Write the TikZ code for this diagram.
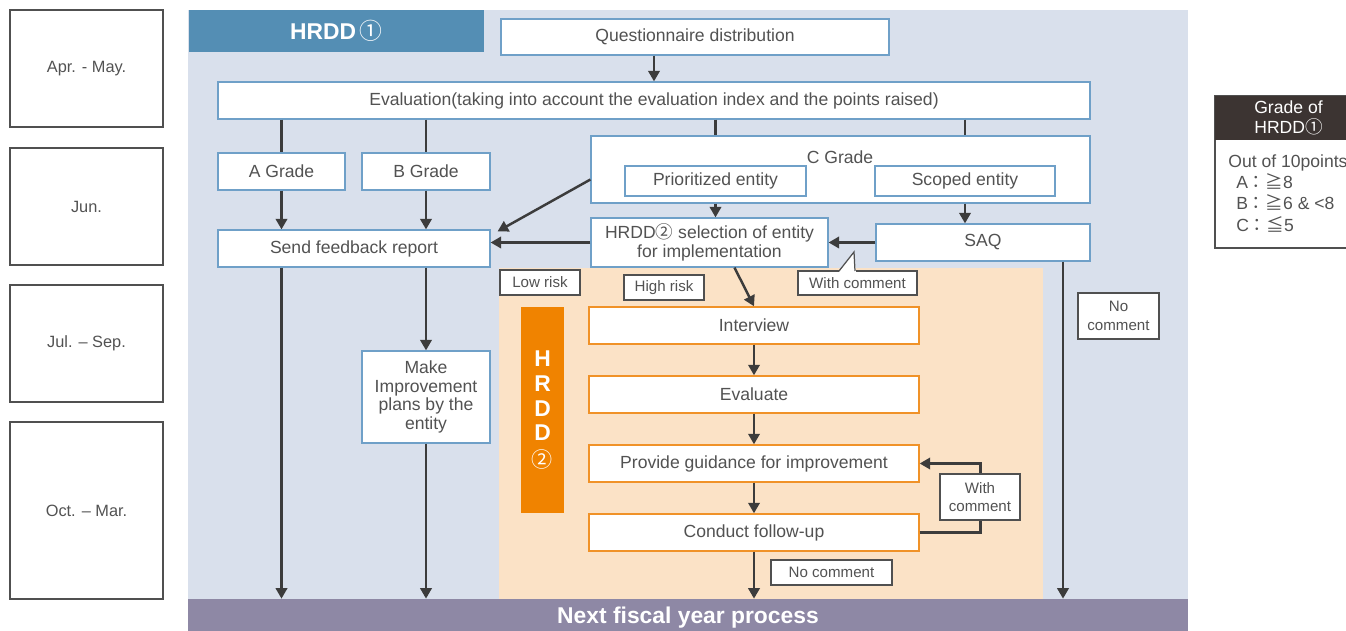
\documentclass[tikz,border=0pt]{standalone}
\usepackage{fontspec}
\setmainfont{Liberation Sans}
\newfontfamily\cjk{Noto Sans CJK JP}
\usetikzlibrary{arrows.meta,positioning,calc}

\definecolor{hrddbg}{RGB}{217,224,236}
\definecolor{hdrblue}{RGB}{84,142,180}
\definecolor{boxblue}{RGB}{111,160,200}
\definecolor{riskbg}{RGB}{251,226,198}
\definecolor{boxorange}{RGB}{240,146,40}
\definecolor{hrddorange}{RGB}{240,131,0}
\definecolor{nextpurple}{RGB}{142,136,165}
\definecolor{legdark}{RGB}{60,52,50}
\definecolor{arrgray}{RGB}{60,60,60}
\definecolor{txtgray}{RGB}{82,82,82}
\definecolor{tagline}{RGB}{80,80,80}

\begin{document}
\begin{tikzpicture}[
    x=0.02cm, y=-0.02cm,
    every node/.style={font=\fontsize{10}{10.6}\selectfont, text=txtgray},
    box/.style={draw=boxblue, line width=0.7pt, fill=white, inner sep=0pt, align=center, minimum height=0.74cm},
    obox/.style={draw=boxorange, line width=0.8pt, fill=white, inner sep=0pt, minimum width=6.6cm, minimum height=0.74cm},
    tag/.style={draw=tagline, line width=0.7pt, fill=white, inner sep=0pt, align=center, minimum width=1.6cm, minimum height=0.5cm, font=\fontsize{8.6}{10.6}\selectfont},
    month/.style={draw=tagline, line width=0.7pt, minimum width=3.06cm, minimum height=2.34cm, font=\fontsize{9.3}{11}\selectfont},
    arr/.style={-{Triangle[width=6.5pt,length=6pt]}, line width=1.4pt, draw=arrgray},
    link/.style={line width=1.4pt, draw=arrgray}
  ]
  \useasboundingbox (0,0) rectangle (1346,631);

  % months
  \node[month] (apr) at (86.5,68.5) {Apr. - May.};
  \node[month] (jun) at (86.5,206.5) {Jun.};
  \node[month] (jul) at (86.5,343.5) {Jul. -- Sep.};
  \node[month, minimum height=3.54cm] (oct) at (86.5,510.5) {Oct. -- Mar.};

  % backgrounds
  \fill[hrddbg] (188,10) rectangle (1188,599);
  \fill[riskbg] (499,268) rectangle (1043,599);
  \node[fill=hdrblue, minimum width=5.9cm, minimum height=0.84cm, inner sep=0pt, text=white,
    font=\fontsize{13}{15}\selectfont] (hrddone) at (336.5,31) {\textbf{HRDD}\,{\cjk ①}};
  \node[fill=nextpurple, minimum width=20cm, minimum height=0.64cm, inner sep=0pt, text=white, text depth=0pt,
    font=\bfseries\fontsize{13}{15}\selectfont] (nextyear) at (688,615) {Next fiscal year process};

  % HRDD(1)
  \node[box, minimum width=7.76cm, minimum height=0.72cm] (quest) at (695,37) {Questionnaire distribution};
  \node[box, minimum width=17.44cm] (evalidx) at (654,100.5) {Evaluation(taking into account the evaluation index and the points raised)};
  \node[box, minimum width=2.54cm] (agrade) at (281.5,171.5) {A Grade};
  \node[box, minimum width=2.56cm] (bgrade) at (426,171.5) {B Grade};
  \node[box, minimum width=9.98cm, minimum height=1.34cm] (cgrade) at (840.5,169.5) {};
  \node (ctitle) at (840,157) {C Grade};
  \node[box, minimum width=3.62cm, minimum height=0.6cm] (prio) at (715.5,181) {Prioritized entity};
  \node[box, minimum width=3.6cm, minimum height=0.6cm] (scoped) at (965,181) {Scoped entity};
  \node[box, minimum width=5.44cm] (feedback) at (354,248.5) {Send feedback report};
  \node[box, minimum width=4.74cm, minimum height=0.98cm] (select) at (709.5,242.5) {HRDD{\cjk ②} selection of entity\\for implementation};
  \node[box, minimum width=4.28cm] (saq) at (983,242.5) {SAQ};
  \node[box, minimum width=2.56cm, minimum height=1.84cm] (plans) at (426,397) {Make\\Improvement\\plans by the\\entity};

  \draw[arr] (quest.south -| evalidx) -- (evalidx.north);
  \draw[link] (evalidx.south -| agrade) -- (agrade.north);
  \draw[link] (evalidx.south -| bgrade) -- (bgrade.north);
  \draw[link] (evalidx.south -| prio) -- (cgrade.north -| prio);
  \draw[link] (evalidx.south -| scoped) -- (cgrade.north -| scoped);
  \draw[arr] (agrade) -- (feedback.north -| agrade);
  \draw[arr] (bgrade) -- (feedback.north -| bgrade);
  \draw[arr] ($(cgrade.west)+(0,10)$) -- ($(feedback.north east)+(7,2)$);
  \draw[arr] (cgrade.south -| prio) -- (select.north -| prio);
  \draw[arr] (cgrade.south -| scoped) -- (saq.north -| scoped);
  \draw[arr] (select.west) -- (select.west -| feedback.east);
  \draw[arr] (saq.west) -- (select.east);
  \draw[arr] (feedback.south -| agrade) -- (nextyear.north -| agrade);
  \draw[arr] (feedback.south -| plans) -- (plans.north);
  \draw[arr] (plans) -- (nextyear.north -| plans);
  \coordinate (saqdrop) at (1063,0);
  \draw[arr] (saq.south -| saqdrop) -- (nextyear.north -| saqdrop);

  % HRDD(2)
  \node[fill=hrddorange, minimum width=0.86cm, minimum height=4.12cm, inner sep=0pt, text=white, align=center,
    font=\bfseries\fontsize{13}{14}\selectfont] (hrddtwo) at (542.5,410)
    {H\\R\\D\\D\\[1pt]{\cjk\mdseries\fontsize{12}{14}\selectfont ②}};
  \node[obox] (interview) at (754,325.5) {Interview};
  \node[obox] (evaluate) at (754,394.5) {Evaluate};
  \node[obox] (guidance) at (754,463.5) {Provide guidance for improvement};
  \node[obox] (followup) at (754,532.5) {Conduct follow-up};

  \draw[arr] ($(select.south)+(25,0)$) -- (interview.north);
  \draw[arr] (interview) -- (evaluate);
  \draw[arr] (evaluate) -- (guidance);
  \draw[arr] (guidance) -- (followup);
  \draw[arr] (followup) -- (nextyear.north -| followup);
  \draw[arr] (followup.east) -- ++(61,0) |- (guidance.east);

  % tags
  \node[tag] (lowrisk) at (540,282.5) {Low risk};
  \node[tag] (highrisk) at (664,287.5) {High risk};
  \node[tag, minimum width=2.38cm, minimum height=0.48cm] (withcmt) at (857.5,283) {With comment};
  \fill[white] (839,272) -- (854,252) -- (856,272) -- cycle;
  \draw[tagline, line width=0.7pt] (839,271) -- (854,252) -- (855,271);
  \node[tag, minimum width=1.62cm, minimum height=0.92cm] (nocmtsaq) at (1118.5,316) {No\\comment};
  \node[tag, minimum height=0.92cm] (withcmtloop) at (980,497) {With\\comment};
  \node[tag, minimum width=2.42cm] (nocmtend) at (831.5,572.5) {No comment};

  % legend
  \node[draw=tagline, line width=0.7pt, fill=white, minimum width=2.94cm, minimum height=3.04cm, inner sep=0pt] (legbox) at (1288.5,172) {};
  \node[fill=legdark, minimum width=2.94cm, minimum height=0.88cm, inner sep=0pt, text=white, align=center,
    font=\fontsize{10}{11.5}\selectfont] (leghead) at (1288.5,118) {Grade of\\HRDD{\cjk ①}};
  \node[anchor=north west, align=left, inner sep=0pt, font=\fontsize{10}{12.2}\selectfont] (legtext) at (1228,154)
    {Out of 10points\\\hspace*{4.5pt}A{\cjk ：≧}8\\\hspace*{4.5pt}B{\cjk ：≧}6 \& <8\\\hspace*{4.5pt}C{\cjk ：≦}5};
\end{tikzpicture}
\end{document}
